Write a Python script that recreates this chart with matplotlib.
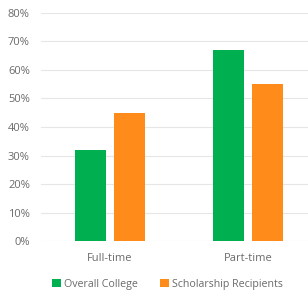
import matplotlib
matplotlib.use("Agg")
import matplotlib.pyplot as plt
import numpy as np
from matplotlib.ticker import PercentFormatter

categories = ["Full-time", "Part-time"]
series_names = ["Overall College", "Scholarship Recipients"]
overall = [0.32, 0.67]
scholarship = [0.45, 0.55]
colors = ["#00B050", "#FF8C1A"]

fig = plt.figure(figsize=(3.08, 2.92), dpi=100)
ax = fig.add_axes([0.133, 0.173, 0.896, 0.7835])

x = np.arange(len(categories))
w = 0.225
off = 0.143
ax.bar(x - off, overall, w, color=colors[0], label=series_names[0], zorder=3)
ax.bar(x + off, scholarship, w, color=colors[1], label=series_names[1], zorder=3)

ax.set_xlim(-0.5, 1.5)
ax.set_ylim(0, 0.8)
ax.set_yticks(np.arange(0, 0.81, 0.1))
ax.yaxis.set_major_formatter(PercentFormatter(1.0, decimals=0))
ax.set_xticks(x)
ax.set_xticklabels(categories)
ax.grid(axis="y", color="#E6E6E6", linewidth=0.8, zorder=0)
for s in ax.spines.values():
    s.set_visible(False)
ax.tick_params(axis="both", length=0, colors="#6A6A6A", labelsize=8)
ax.tick_params(axis="y", pad=8)
ax.tick_params(axis="x", pad=8)
for t in ax.get_xticklabels() + ax.get_yticklabels():
    t.set_fontfamily("Open Sans")

leg = fig.legend(loc="center", bbox_to_anchor=(0.544, 0.027), ncol=2, frameon=False,
                 handlelength=0.8, handleheight=0.8, handletextpad=0.3,
                 columnspacing=2.1, prop={"family": "Open Sans", "size": 7.7})
for t in leg.get_texts():
    t.set_color("#6A6A6A")

fig.savefig("out.png", dpi=100)
